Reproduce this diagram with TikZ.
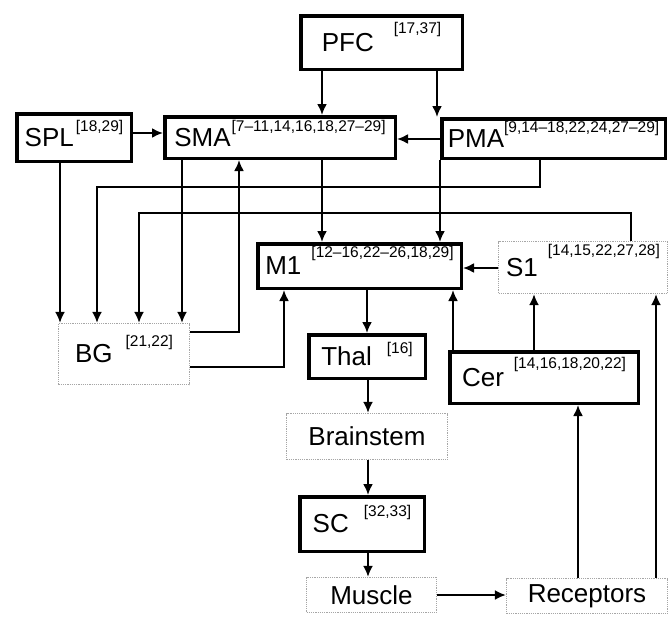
\documentclass[tikz,border=0pt]{standalone}
\usepackage{fontspec}
\setmainfont{Liberation Sans}
\usetikzlibrary{arrows.meta}

\newcommand{\refnums}[2][16pt]{\raisebox{#1}[0pt][0pt]{\fontsize{15.5}{16}\selectfont #2}}

\begin{document}
\begin{tikzpicture}[x=1pt, y=-1pt,
	font=\fontsize{26}{30}\selectfont,
	solidbox/.style={draw, line width=3.5pt, inner sep=0pt},
	dotbox/.style={draw=gray!70, densely dotted, line width=1.2pt, inner sep=0pt},
	link/.style={line width=2.1pt, -{Latex[length=11pt,width=10pt]}},
]
	\useasboundingbox (0,0) rectangle (672,616);

	\node[solidbox, minimum width=161.5pt, minimum height=53.5pt] (PFC) at (381.5,42.5) {PFC\hspace{20pt}\refnums[18pt]{[17,37]}};
	\node[solidbox, minimum width=114.5pt, minimum height=47.5pt] (SPL) at (74,137.5) {SPL\hspace{2pt}\refnums[15pt]{[18,29]}};
	\node[solidbox, minimum width=230.5pt, minimum height=41.5pt] (SMA) at (280,137.5) {SMA\hspace{1pt}\refnums[15pt]{[7--11,14,16,18,27--29]}};
	\node[solidbox, minimum width=223.5pt, minimum height=39.5pt] (PMA) at (553.5,138.5) {PMA\hspace{0pt}\refnums[15pt]{[9,14--18,22,24,27--29]}};

	\node[solidbox, minimum width=203.5pt, minimum height=44.5pt] (M1) at (359.5,266) {M1\hspace{10pt}\refnums[17pt]{[12--16,22--26,18,29]}};
	\node[dotbox, minimum width=169pt, minimum height=52pt] (S1) at (583,267.5) {S1\hspace{10pt}\refnums[21pt]{[14,15,22,27,28]}};

	\node[dotbox, minimum width=131pt, minimum height=61pt] (BG) at (124,354) {BG\hspace{13pt}\refnums[16pt]{[21,22]}};
	\node[solidbox, minimum width=116.5pt, minimum height=43.5pt] (Thal) at (367,356.5) {Thal\hspace{15pt}\refnums[12pt]{[16]}};
	\node[solidbox, minimum width=188.5pt, minimum height=51.5pt] (Cer) at (544,377.5) {Cer\hspace{10pt}\refnums[18pt]{[14,16,18,20,22]}};

	\node[dotbox, minimum width=161pt, minimum height=46pt] (Brainstem) at (367,436.5) {Brainstem};
	\node[solidbox, minimum width=124.5pt, minimum height=54.5pt] (SC) at (362,524) {SC\hspace{15pt}\refnums[16pt]{[32,33]}};
	\node[dotbox, minimum width=130pt, minimum height=35pt] (Muscle) at (371.5,595) {Muscle};
	\node[dotbox, minimum width=161pt, minimum height=35pt] (Receptors) at (587,596) {Receptors};

	\draw[link] (PFC.south -| 322,0) -- (SMA.north -| 322,0);
	\draw[link] (PFC.south -| 437,0) -- (PMA.north -| 437,0);
	\draw[link] (SPL.east |- 0,133) -- (SMA.west |- 0,133);
	\draw[link] (PMA.west |- 0,139) -- (SMA.east |- 0,139);

	\draw[link] (SPL.south -| 60,0) -- (BG.north -| 60,0);
	\draw[link] (PMA.south -| 540,0) |- (97,187) -- (BG.north -| 97,0);
	\draw[link] (S1.north -| 631,0) |- (139,213) -- (BG.north -| 139,0);
	\draw[link] (SMA.south -| 182,0) -- (BG.north -| 182,0);
	\draw[link] (BG.east |- 0,332) -| (SMA.south -| 239,0);
	\draw[link] (BG.east |- 0,367) -| (M1.south -| 284,0);

	\draw[link] (SMA.south -| 322,0) -- (M1.north -| 322,0);
	\draw[link] (PMA.south -| 440,0) -- (M1.north -| 440,0);
	\draw[link] (S1.west |- 0,268) -- (M1.east |- 0,268);
	\draw[link] (M1.south -| 367,0) -- (Thal.north -| 367,0);

	\draw[link] (Cer.north -| 453,0) -- (M1.south -| 453,0);
	\draw[link] (Cer.north -| 534,0) -- (S1.south -| 534,0);
	\draw[link] (Receptors.north -| 656,0) -- (S1.south -| 656,0);

	\draw[link] (Thal.south -| 368,0) -- (Brainstem.north -| 368,0);
	\draw[link] (Brainstem.south -| 368,0) -- (SC.north -| 368,0);
	\draw[link] (SC.south -| 368,0) -- (Muscle.north -| 368,0);
	\draw[link] (Muscle.east |- 0,595) -- (Receptors.west |- 0,595);
	\draw[link] (Receptors.north -| 578,0) -- (Cer.south -| 578,0);
\end{tikzpicture}
\end{document}
